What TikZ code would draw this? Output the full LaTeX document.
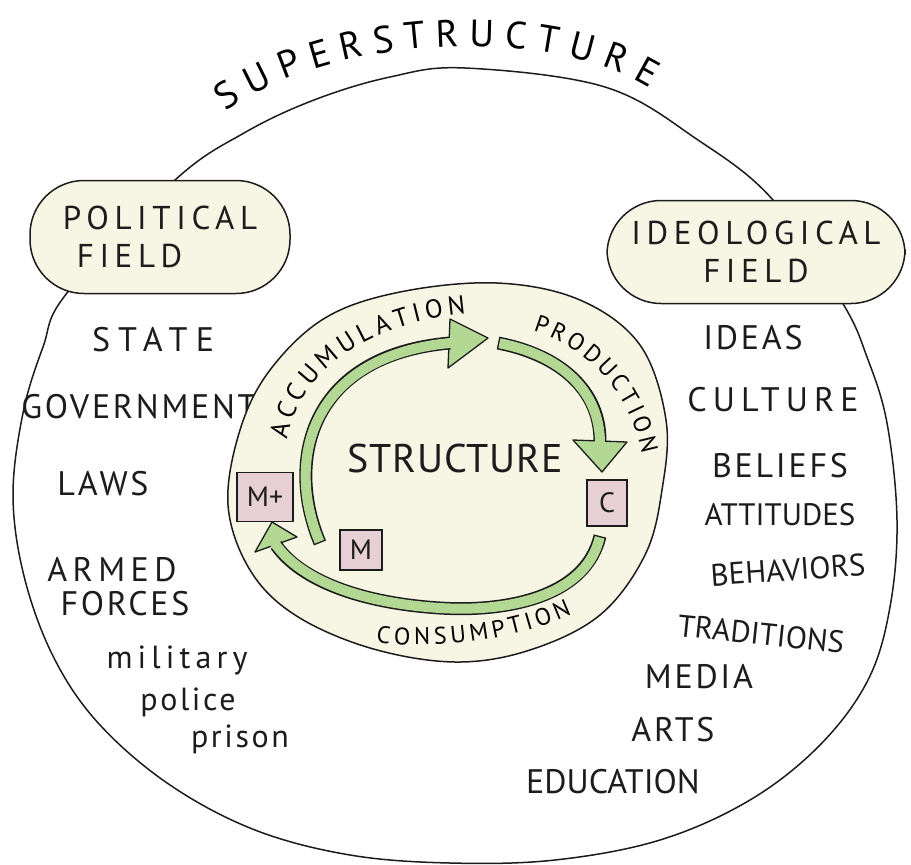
\documentclass[tikz,border=0pt]{standalone}
\usepackage{fontspec}
\newfontfamily\hand[LetterSpace=8]{PT Sans}
\usetikzlibrary{decorations.text}
\definecolor{ink}{HTML}{1C1C1C}
\definecolor{cream}{HTML}{F7F5E4}
\definecolor{leaf}{HTML}{B2D894}
\definecolor{rose}{HTML}{E6CFD5}
\tikzstyle{outline} = [draw=ink, line width=1.5pt]
\tikzstyle{field} = [rectangle, rounded corners=54pt, draw=ink, fill=cream, line width=1.5pt, text=ink, font=\hand\addfontfeature{LetterSpace=17}\fontsize{33}{38}\selectfont, align=center]
\tikzstyle{word} = [text=ink, inner sep=0pt, font=\hand\fontsize{34}{34}\selectfont]
\tikzstyle{wide} = [word, font=\hand\addfontfeature{LetterSpace=24}\fontsize{34}{34}\selectfont]
\tikzstyle{tight} = [word, font=\hand\addfontfeature{LetterSpace=0}\fontsize{31}{31}\selectfont]
\tikzstyle{lower} = [text=ink, inner sep=0pt, anchor=base, font=\hand\fontsize{32}{32}\selectfont]
\tikzstyle{tag} = [rectangle, draw=ink, fill=rose, line width=1.3pt, inner sep=0pt, text=ink, font=\hand\addfontfeature{LetterSpace=0}\fontsize{28}{28}\selectfont]
\tikzstyle{band} = [draw=leaf, line width=10pt, shorten <=1.4pt, shorten >=-2.5pt, preaction={draw=ink, line width=13pt, shorten <=0pt, shorten >=0pt}]
\tikzstyle{head} = [draw=ink, fill=leaf, line width=1.3pt, line join=round]

\begin{document}
\begin{tikzpicture}[x=1pt, y=-1pt]
	\useasboundingbox (0,0) rectangle (911,865);

	% superstructure
	\draw [outline] plot[smooth cycle, tension=0.6] coordinates {(175,180) (244,133) (314,100) (390,77) (465,68) (605,87) (698,140) (773,200) (842,302) (867,357) (887,423) (897,520) (890,607) (868,680) (820,745) (750,800) (660,840) (555,860) (450,863) (350,855) (255,830) (170,785) (100,725) (55,660) (25,580) (13,497) (23,413) (43,347) (67,293)};
	\path [decorate, decoration={text along path, text align={fit to path}, text={|\hand\fontsize{38}{38}\selectfont|SUPERSTRUCTURE}}] (226,112) .. controls (320,40) and (540,20) .. (650,88);

	\node (polfield) [field, minimum width=260pt, minimum height=113pt, align=left] at (160,237) {POLITICAL\\\hspace*{14pt}FIELD};
	\node (ideofield) [field, minimum width=298pt, minimum height=103pt] at (756,252) {IDEOLOGICAL\\FIELD};

	% political side
	\node (state) [wide] at (153,340) {STATE};
	\node (government) [word] at (139,407) {GOVERNMENT};
	\node (laws) [word] at (103,484) {LAWS};
	\node (armed) [wide, font=\hand\addfontfeature{LetterSpace=16}\fontsize{34}{34}\selectfont] at (112,570) {ARMED};
	\node (forces) [word] at (125,604) {FORCES};
	\node (military) [lower, font=\hand\addfontfeature{LetterSpace=16}\fontsize{32}{32}\selectfont] at (177,668) {military};
	\node (police) [lower] at (188,710) {police};
	\node (prison) [lower] at (240,747) {prison};

	% ideological side
	\node (ideas) [word] at (753,338) {IDEAS};
	\node (culture) [wide, font=\hand\addfontfeature{LetterSpace=18}\fontsize{34}{34}\selectfont] at (773,400) {CULTURE};
	\node (beliefs) [word] at (780,466) {BELIEFS};
	\node (attitudes) [tight] at (780,515) {ATTITUDES};
	\node (behaviors) [tight, rotate=4] at (788,570) {BEHAVIORS};
	\node (traditions) [tight, rotate=-6] at (761,634) {TRADITIONS};
	\node (media) [word] at (699,677) {MEDIA};
	\node (arts) [word] at (673,730) {ARTS};
	\node (education) [tight, font=\hand\addfontfeature{LetterSpace=0}\fontsize{34}{34}\selectfont] at (613,782) {EDUCATION};

	% structure
	\draw [outline, fill=cream] plot[smooth cycle, tension=0.6] coordinates {(497,283) (580,300) (640,345) (666,420) (662,490) (645,555) (600,615) (530,650) (455,662) (370,648) (295,615) (250,570) (228,505) (240,430) (270,370) (325,318) (400,292)};
	\node (structure) [word, font=\hand\addfontfeature{LetterSpace=2}\fontsize{40}{40}\selectfont] at (455,458) {STRUCTURE};

	\path [decorate, decoration={text along path, text align={fit to path}, text={|\hand\fontsize{26}{26}\selectfont|ACCUMULATION}}] (287,440) .. controls (300,370) and (370,322) .. (466,314);
	\path [decorate, decoration={text along path, text align={fit to path}, text={|\hand\fontsize{24}{24}\selectfont|PRODUCTION}}] (533,331) .. controls (587,347) and (630,392) .. (642,454);
	\path [decorate, decoration={text along path, text align={fit to path}, text={|\hand\fontsize{24}{24}\selectfont|CONSUMPTION}}] (376,642) .. controls (430,650) and (510,642) .. (572,614);

	\node (mplus) [tag, minimum width=56pt, minimum height=49pt] at (265,497) {M+};
	\node (m) [tag, minimum width=42pt, minimum height=40pt] at (361,550) {M};
	\node (c) [tag, minimum width=40pt, minimum height=46pt] at (607,503) {C};

	\coordinate (accTail) at (320,543);
	\coordinate (accEnd) at (450,343);
	\coordinate (prodTail) at (498,343);
	\coordinate (prodEnd) at (600,441);
	\coordinate (consTail) at (600,536);
	\coordinate (consEnd) at (276,545);

	\draw [head] (488,338) -- (450,319) -- (448,368) -- cycle;
	\draw [band] (accTail) .. controls (285,460) and (310,355) .. (accEnd);
	\draw [head] (602,472) -- (573,440) -- (627,442) -- cycle;
	\draw [band] (prodTail) .. controls (560,355) and (600,390) .. (prodEnd);
	\draw [head] (272,522) -- (297,537) -- (255,552) -- cycle;
	\draw [band] (consTail) .. controls (585,600) and (500,612) .. (440,608) .. controls (360,603) and (300,580) .. (consEnd);

\end{tikzpicture}
\end{document}
